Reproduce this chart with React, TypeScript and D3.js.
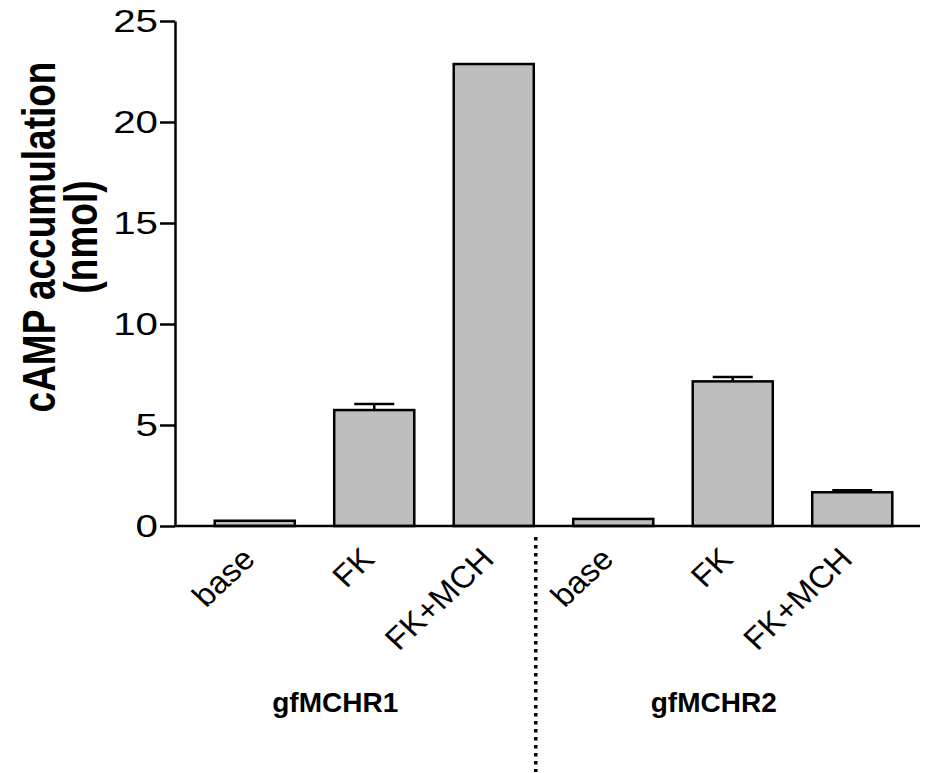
import * as d3 from "d3";
import React from "react";

// bar categories (unique keys) and what is printed under them
const categories = ["base1", "FK1", "FK+MCH1", "base2", "FK2", "FK+MCH2"];
const tickLabels = ["base", "FK", "FK+MCH", "base", "FK", "FK+MCH"];
const means = [0.26, 5.74, 22.87, 0.35, 7.16, 1.67];
const errors = [0, 0.3, 0, 0, 0.22, 0.1];
const groups = ["gfMCHR1", "gfMCHR2"];
const yTicks = [0, 5, 10, 15, 20, 25];

export default function App() {
  const ref = React.useRef<HTMLDivElement>(null);

  React.useEffect(() => {
    const el = ref.current;
    if (!el) return;
    el.innerHTML = "";

    const width = 925;
    const height = 773;
    const font = "'Liberation Sans', Arial, Helvetica, sans-serif";

    const svg = d3
      .select(el)
      .append("svg")
      .attr("width", width)
      .attr("height", height)
      .style("font-family", font);

    const y = d3.scaleLinear().domain([0, 25]).range([526, 21]);
    const x = d3
      .scaleBand()
      .domain(categories)
      .range([195, 912])
      .paddingInner(0.33)
      .paddingOuter(0.165);

    // bars
    svg
      .selectAll("rect.bar")
      .data(categories)
      .enter()
      .append("rect")
      .attr("class", "bar")
      .attr("x", (d) => x(d)!)
      .attr("width", x.bandwidth())
      .attr("y", (d, i) => y(means[i]))
      .attr("height", (d, i) => y(0) - y(means[i]))
      .attr("fill", "#bebebe")
      .attr("stroke", "#000")
      .attr("stroke-width", 2.5);

    // error bars (upper only)
    const errG = svg.append("g").attr("stroke", "#000").attr("stroke-width", 2.5);
    categories.forEach((c, i) => {
      if (!errors[i]) return;
      const cx = x(c)! + x.bandwidth() / 2;
      const capW = x.bandwidth() / 4;
      errG
        .append("line")
        .attr("x1", cx)
        .attr("x2", cx)
        .attr("y1", y(means[i]))
        .attr("y2", y(means[i] + errors[i]));
      errG
        .append("line")
        .attr("x1", cx - capW)
        .attr("x2", cx + capW)
        .attr("y1", y(means[i] + errors[i]))
        .attr("y2", y(means[i] + errors[i]));
    });

    // y axis (labels drawn separately, a bit wide like the original)
    const yAxis = svg
      .append("g")
      .attr("transform", "translate(175,0)")
      .call(
        d3.axisLeft(y).tickValues(yTicks).tickSize(15).tickSizeOuter(0).tickFormat(() => "")
      );
    yAxis.select(".domain").attr("stroke-width", 2.5);
    yAxis.selectAll(".tick line").attr("stroke-width", 2.5);

    yTicks.forEach((t) => {
      svg
        .append("text")
        .attr("transform", `translate(158,${y(t)}) scale(1.3,1)`)
        .attr("text-anchor", "end")
        .attr("dy", "0.36em")
        .style("font-size", "31px")
        .text(t);
    });

    // x axis line
    svg
      .append("line")
      .attr("x1", 175)
      .attr("x2", 920)
      .attr("y1", y(0))
      .attr("y2", y(0))
      .attr("stroke", "#000")
      .attr("stroke-width", 2.5);

    // rotated category labels
    categories.forEach((c, i) => {
      const cx = x(c)! + x.bandwidth() / 2 + 2;
      const ty = 561;
      svg
        .append("text")
        .attr("transform", `translate(${cx},${ty}) scale(1.07,1) rotate(-45)`)
        .attr("text-anchor", "end")
        .style("font-size", "31px")
        .text(tickLabels[i]);
    });

    // dotted separator
    const sepX = x("FK+MCH1")! + x.bandwidth() + 2;
    svg
      .append("line")
      .attr("x1", sepX)
      .attr("x2", sepX)
      .attr("y1", 537)
      .attr("y2", 772)
      .attr("stroke", "#000")
      .attr("stroke-width", 3.5)
      .attr("stroke-dasharray", "3.5,4.5");

    // group labels
    const groupX = [x("FK1")! + x.bandwidth() / 2 - 39, x("FK2")! + x.bandwidth() / 2 - 19];
    groups.forEach((g, i) => {
      svg
        .append("text")
        .attr("x", groupX[i])
        .attr("y", 712)
        .attr("text-anchor", "middle")
        .style("font-size", "28px")
        .style("font-weight", "bold")
        .text(g);
    });

    // y axis title
    const title = svg
      .append("text")
      .attr("transform", "translate(55,237) scale(1.25,1) rotate(-90)")
      .attr("text-anchor", "middle")
      .style("font-size", "37px")
      .style("font-weight", "bold");
    title.append("tspan").attr("x", 0).attr("dy", 0).text("cAMP accumulation");
    title.append("tspan").attr("x", 0).attr("dy", 34).text("(nmol)");
  }, []);

  return <div ref={ref} style={{ position: "absolute", left: 0, top: 0 }}></div>;
}
